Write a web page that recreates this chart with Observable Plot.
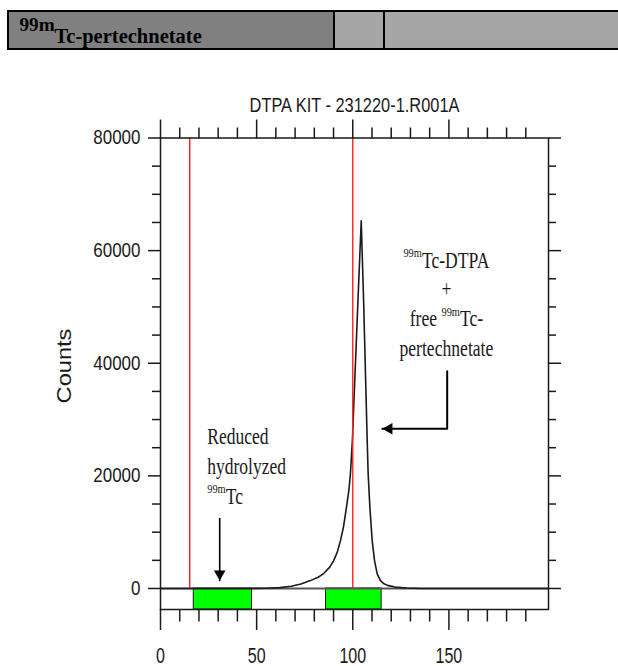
<!DOCTYPE html>
<html><head><meta charset="utf-8">
<script src="https://cdn.jsdelivr.net/npm/d3@7"></script>
<script src="https://cdn.jsdelivr.net/npm/@observablehq/plot@0.6"></script>
<style>
html,body{margin:0;padding:0;background:#fff;}
#header{position:relative;width:618px;height:60px;overflow:hidden;}
.box{position:absolute;box-sizing:border-box;}
.htxt{position:absolute;font-family:'Liberation Serif','Times New Roman',serif;font-weight:bold;line-height:1;color:#000;white-space:nowrap;}
</style></head><body>
<div id="header">
  <div class="box" style="left:7px;top:9.5px;width:700px;height:40px;border:2px solid #000;background:#a6a6a6"></div>
  <div class="box" style="left:9px;top:11.5px;width:323.5px;height:36px;background:#808080"></div>
  <div class="box" style="left:332.5px;top:9.5px;width:2px;height:40px;background:#000"></div>
  <div class="box" style="left:382.5px;top:9.5px;width:2px;height:40px;background:#000"></div>
  <span class="htxt" style="left:19.5px;top:15px;font-size:19.2px">99m</span>
  <span class="htxt" style="left:54.5px;top:26px;font-size:20.5px">Tc-pertechnetate</span>
</div>
<div id="chart"></div>
<script>
// ---- data ----
const title = "DTPA KIT - 231220-1.R001A";
const yLabel = "Counts";
const xTicks = [0, 50, 100, 150];
const xMinor = [10, 20, 30, 40, 60, 70, 80, 90, 110, 120, 130, 140, 160, 170, 180, 190];
const yTicks = [0, 20000, 40000, 60000, 80000];
const yMinor = [5000, 10000, 15000, 25000, 30000, 35000, 45000, 50000, 55000, 65000, 70000, 75000];
const xMax = 201.8, yMin = -3730, yMax = 80000;
// chromatogram trace (retention position vs counts)
const retention = [0, 45, 55, 62, 68, 73, 78, 82, 85, 88, 90, 92, 93.6, 95.2, 96.7, 98, 98.8, 99.8, 102.6, 104.4, 105.7, 107.5, 108, 108.9, 110.1, 111.3, 112.7, 114.4, 116, 118, 122, 128, 135, 201.8];
const counts    = [0, 0, 40, 150, 400, 800, 1400, 2000, 2700, 3800, 4900, 6500, 8500, 11000, 14400, 17500, 20400, 26300, 50300, 65300, 50300, 26300, 20400, 14400, 8500, 5000, 2600, 1400, 900, 550, 250, 80, 0, 0];
// red marker lines
const markerLines = [15.2, 100];
// green regions
const regionStart = [17.3, 86.1];
const regionEnd = [47.6, 115];
// annotations
const peakLabel = ["99mTc-DTPA", "+", "free 99mTc-", "pertechnetate"];
const peakLabelX = 148.7;
const peakLabelY = [57000, 51860, 46530, 41200];
const rhLabel = ["Reduced", "hydrolyzed", "99mTc"];
const rhLabelX = 24.3;
const rhLabelY = [25700, 20370, 15040];
const arrow1X = [149.1, 149.1, 115.4], arrow1Y = [38590, 28360, 28360];
const arrow2X = [30.8, 30.8], arrow2Y = [12430, 1420];

// ---- build ----
const trace = retention.map((x, i) => ({x, y: counts[i]}));
const zones = regionStart.map((x1, i) => ({x1, x2: regionEnd[i]}));
const arrow1 = arrow1X.map((x, i) => ({x, y: arrow1Y[i]}));
const arrow2 = arrow2X.map((x, i) => ({x, y: arrow2Y[i]}));
const ax = "#1a1a1a";
const tickStyle = {stroke: ax, strokeWidth: 1.5, fill: "none", label: null};
const serif = "'Liberation Serif','Times New Roman',serif";

const svg = Plot.plot({
  width: 618, height: 606,
  marginLeft: 160, marginRight: 70, marginTop: 77.5, marginBottom: 57,
  x: {domain: [0, xMax]},
  y: {domain: [yMin, yMax]},
  style: {fontFamily: "'Liberation Sans', Arial, sans-serif", background: "white", color: ax, overflow: "visible"},
  marks: [
    Plot.rect(zones, {x1: "x1", x2: "x2", y1: () => yMin, y2: () => 0, fill: "#00ff00", stroke: ax, strokeWidth: 1}),
    Plot.ruleY([0], {stroke: "#555", strokeWidth: 2}),
    Plot.line(trace, {x: "x", y: "y", stroke: ax, strokeWidth: 1.6}),
    Plot.ruleX(markerLines, {y1: () => 0, y2: () => yMax, stroke: "#ff1f1f", strokeWidth: 1.4}),
    Plot.frame({stroke: ax, strokeWidth: 1.5}),
    Plot.axisX({anchor: "top", ticks: xTicks, tickSize: 19, ...tickStyle}),
    Plot.axisX({anchor: "top", ticks: xMinor, tickSize: 11, ...tickStyle}),
    Plot.axisX({anchor: "bottom", ticks: xTicks, tickSize: 21, ...tickStyle}),
    Plot.axisX({anchor: "bottom", ticks: xMinor, tickSize: 12.5, ...tickStyle}),
    Plot.axisY({anchor: "left", ticks: yTicks, tickSize: 12, ...tickStyle}),
    Plot.axisY({anchor: "left", ticks: yMinor, tickSize: 8, ...tickStyle}),
    Plot.axisY({anchor: "right", ticks: yTicks, tickSize: 12, ...tickStyle}),
    Plot.axisY({anchor: "right", ticks: yMinor, tickSize: 7, ...tickStyle}),
    Plot.axisX({anchor: "bottom", ticks: xTicks, tickSize: 0, tickPadding: 37.5, fontSize: 16, label: null, fill: ax}),
    Plot.axisY({anchor: "left", ticks: yTicks, tickSize: 0, tickPadding: 20, fontSize: 17, label: null, fill: ax, tickFormat: d => String(d)}),
    Plot.text([title], {text: d => d, frameAnchor: "top", textAnchor: "middle", lineAnchor: "bottom", dy: -25.8, fontSize: 16.4, fill: ax, ariaDescription: "title"}),
    Plot.text([yLabel], {text: d => d, frameAnchor: "left", textAnchor: "middle", lineAnchor: "middle", rotate: -90, dx: -96, dy: -7.75, fontSize: 19.7, fill: ax, ariaDescription: "ylabel"}),
    Plot.text(peakLabel, {text: d => d, x: () => peakLabelX, y: (d, i) => peakLabelY[i], textAnchor: "middle", lineAnchor: "bottom", fontFamily: serif, fontSize: 17.6, fill: ax, ariaDescription: "annotation"}),
    Plot.text(rhLabel, {text: d => d, x: () => rhLabelX, y: (d, i) => rhLabelY[i], textAnchor: "start", lineAnchor: "bottom", fontFamily: serif, fontSize: 17.5, fill: ax, ariaDescription: "annotation"}),
    Plot.line(arrow1, {x: "x", y: "y", stroke: "#000", strokeWidth: 2}),
    Plot.line(arrow2, {x: "x", y: "y", stroke: "#000", strokeWidth: 1.6}),
    Plot.dot(arrow1.slice(-1), {x: "x", y: "y", symbol: "triangle", r: 4.3, fill: "#000", stroke: "none", rotate: -90, dx: 6.7}),
    Plot.dot(arrow2.slice(-1), {x: "x", y: "y", symbol: "triangle", r: 4.3, fill: "#000", stroke: "none", rotate: 180, dy: -6.7})
  ]
});
document.getElementById("chart").append(svg);

// superscripts for "99m"
const NS = "http://www.w3.org/2000/svg";
d3.select(svg).selectAll('g[aria-description="annotation"] text').each(function () {
  const s = this.textContent;
  const i = s.indexOf("99m");
  if (i < 0) return;
  this.textContent = "";
  if (i > 0) this.appendChild(document.createTextNode(s.slice(0, i)));
  const sup = document.createElementNS(NS, "tspan");
  sup.setAttribute("font-size", "10.4");
  sup.setAttribute("dy", "-8.3");
  sup.textContent = "99m";
  this.appendChild(sup);
  const rest = document.createElementNS(NS, "tspan");
  rest.setAttribute("dy", "8.3");
  rest.textContent = s.slice(i + 3);
  this.appendChild(rest);
});

// vertical stretch of text (the reference image is stretched)
function stretch(sel, sx, sy) {
  d3.select(svg).selectAll(sel).each(function () {
    const t = this.getAttribute("transform") || "";
    this.setAttribute("transform", t + ` scale(${sx},${sy})`);
  });
}
stretch('g[aria-label="x-axis tick label"] text', 1, 1.38);
stretch('g[aria-label="y-axis tick label"] text', 1, 1.15);
stretch('g[aria-description="title"] text', 1, 1.2);
stretch('g[aria-description="ylabel"] text', 1.2, 1);
stretch('g[aria-description="annotation"] text', 1, 1.27);
</script>
</body></html>
